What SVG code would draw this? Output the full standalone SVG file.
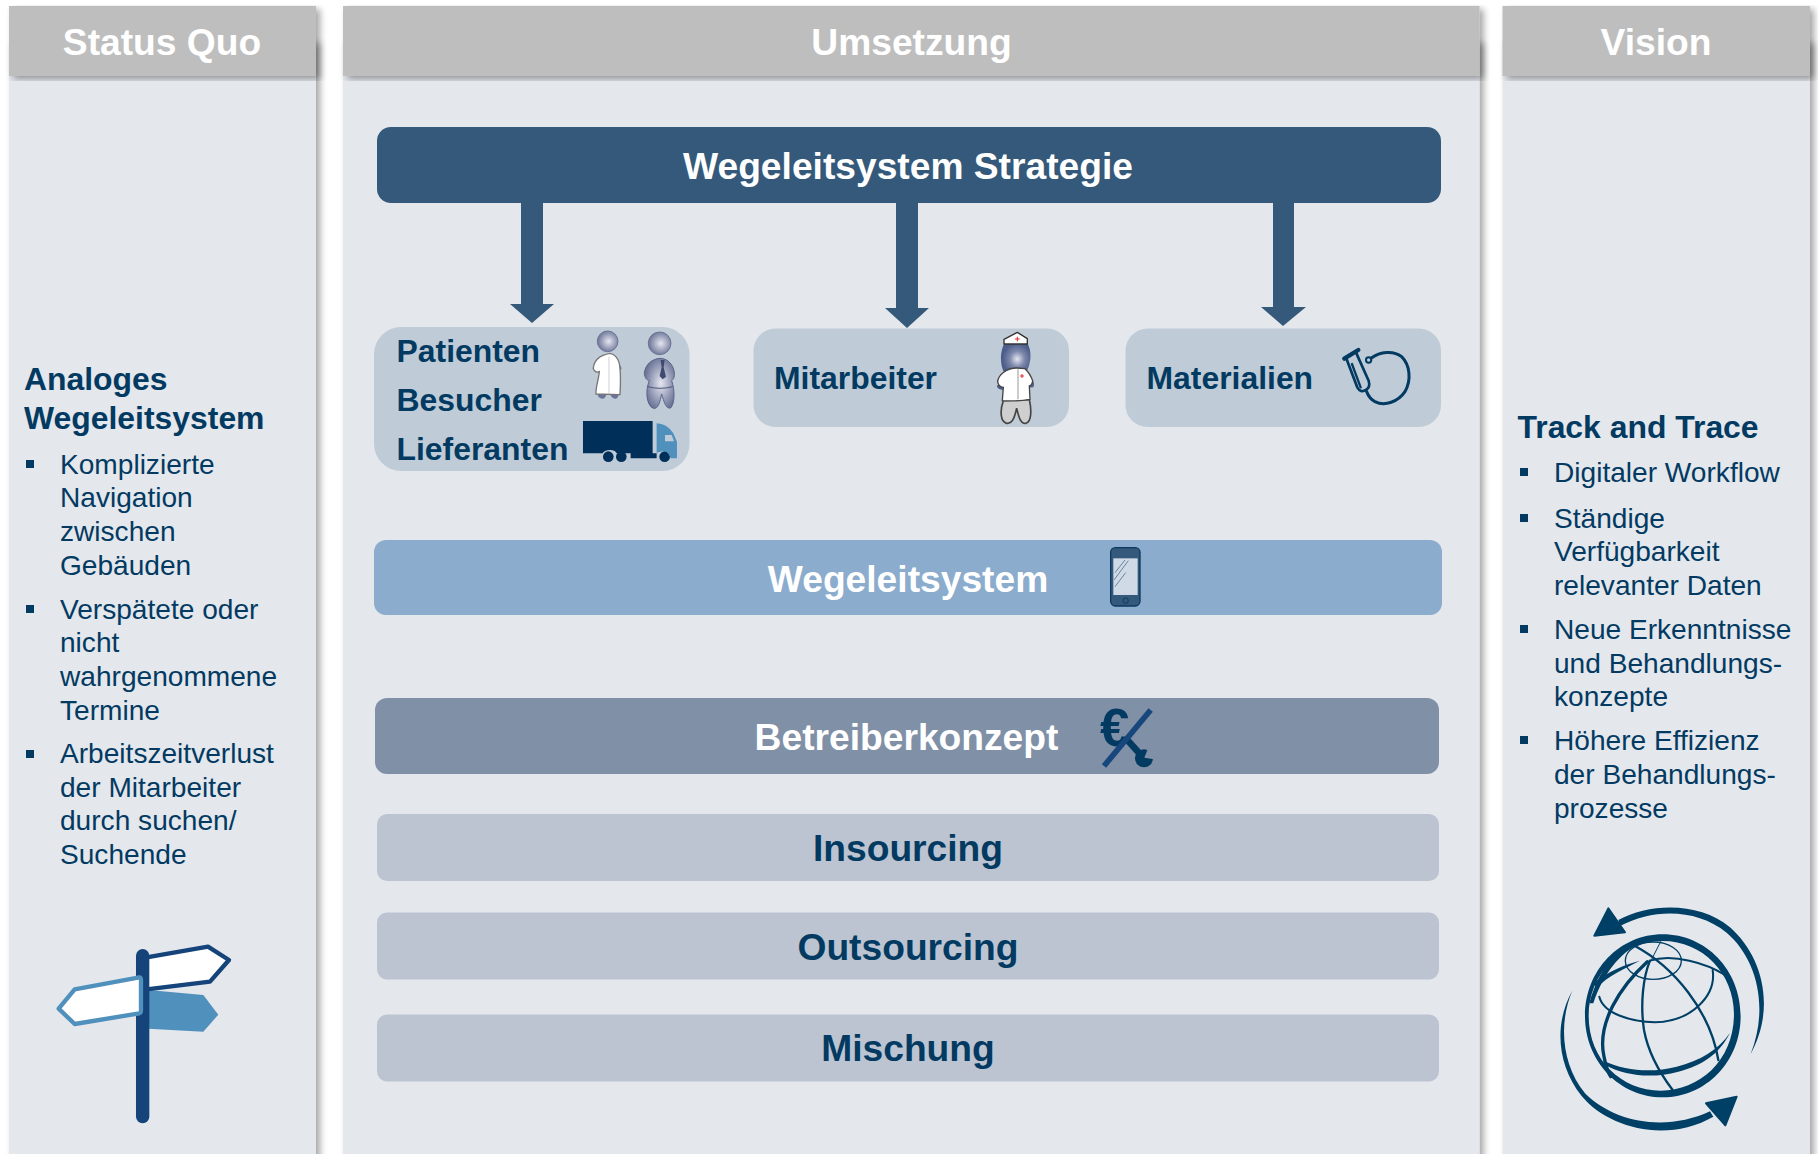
<svg xmlns="http://www.w3.org/2000/svg" width="1818" height="1154" viewBox="0 0 1818 1154">
<style>
text{font-family:"Liberation Sans",Arial,sans-serif}
.h{font-size:37.2px;font-weight:700;fill:#fff;text-anchor:middle}
.t{font-size:37.2px;font-weight:700;text-anchor:middle}
.dk{fill:#033a62}
.lb{font-size:31.9px;font-weight:700;fill:#033a62}
.ll{font-size:28.1px;fill:#033a62}
.sb{fill:#033a62}
.hd{fill:#bebebe}
.pn{fill:#e4e7ec}
.cell{fill:#bfccd7}
.opt{fill:#bcc4d1}
.ar{fill:#34597a}
.gl{fill:none;stroke:#003f66;stroke-linecap:round}
.gf{fill:#003f66}
</style>
<defs>
<filter id="sh" x="-5%" y="-5%" width="112%" height="112%"><feGaussianBlur in="SourceAlpha" stdDeviation="3.5"/><feOffset dx="4" dy="3"/><feComponentTransfer><feFuncA type="linear" slope=".36"/></feComponentTransfer><feMerge><feMergeNode/><feMergeNode in="SourceGraphic"/></feMerge></filter>
<radialGradient id="hg" cx=".55" cy=".5" r=".55"><stop offset="0" stop-color="#e4e6f0"/><stop offset="1" stop-color="#6b7396"/></radialGradient>
<radialGradient id="ng" cx=".55" cy=".55" r=".5"><stop offset="0" stop-color="#e4e6f0"/><stop offset=".5" stop-color="#7d88ac"/><stop offset="1" stop-color="#4c5d8a"/></radialGradient>
</defs>
<g id="col-status">
<rect class="pn" x="9" y="40" width="307" height="1120" filter="url(#sh)"/>
<rect class="hd" x="9" y="6" width="307" height="70" filter="url(#sh)"/>
<text class="h" x="162" y="55">Status Quo</text>
<text class="lb" x="24" y="390">Analoges</text>
<text class="lb" x="24" y="429">Wegeleitsystem</text>
<g class="sb"><rect x="26" y="460" width="8" height="8"/><rect x="26" y="605" width="8" height="8"/><rect x="26" y="750" width="8" height="8"/></g>
<g class="ll">
<text x="60" y="474">Komplizierte</text><text x="60" y="507">Navigation</text><text x="60" y="541">zwischen</text><text x="60" y="575">Gebäuden</text>
<text x="60" y="619">Verspätete oder</text><text x="60" y="652">nicht</text><text x="60" y="686">wahrgenommene</text><text x="60" y="720">Termine</text>
<text x="60" y="763">Arbeitszeitverlust</text><text x="60" y="797">der Mitarbeiter</text><text x="60" y="830">durch suchen/</text><text x="60" y="864">Suchende</text>
</g>
<g id="icon-sign" transform="translate(30 930) scale(.3333)">
<path d="M355 180 520 195 565 254 520 305 355 296Z" fill="#5090bc"/>
<path d="M350 82 534 50 597 90 540 155 350 178Z" fill="#fff" stroke="#14447a" stroke-width="13" stroke-linejoin="round"/>
<rect x="318" y="57" width="40" height="523" rx="20" fill="#14447a"/>
<path d="M328 142 134 178 86 236 134 282 328 250Q333 248 333 240V150Q333 142 328 142Z" fill="#fff" stroke="#5090bc" stroke-width="13" stroke-linejoin="round"/>
</g>
</g>
<g id="col-umsetzung">
<rect class="pn" x="343" y="40" width="1136.5" height="1120" filter="url(#sh)"/>
<rect class="hd" x="343" y="6" width="1136.5" height="70" filter="url(#sh)"/>
<text class="h" x="911.5" y="55">Umsetzung</text>
</g>
<g id="col-vision">
<rect class="pn" x="1502.5" y="40" width="307.5" height="1120" filter="url(#sh)"/>
<rect class="hd" x="1502.5" y="6" width="307.5" height="70" filter="url(#sh)"/>
<text class="h" x="1656" y="55">Vision</text>
<text class="lb" x="1517.5" y="437.5">Track and Trace</text>
<g class="sb"><rect x="1520" y="468" width="8" height="8"/><rect x="1520" y="514" width="8" height="8"/><rect x="1520" y="625" width="8" height="8"/><rect x="1520" y="736" width="8" height="8"/></g>
<g class="ll">
<text x="1554" y="482">Digitaler Workflow</text>
<text x="1554" y="528">Ständige</text><text x="1554" y="561">Verfügbarkeit</text><text x="1554" y="595">relevanter Daten</text>
<text x="1554" y="639">Neue Erkenntnisse</text><text x="1554" y="672.500">und Behandlungs-</text><text x="1554" y="705.500">konzepte</text>
<text x="1554" y="750">Höhere Effizienz</text><text x="1554" y="784">der Behandlungs-</text><text x="1554" y="817.500">prozesse</text>
</g>
<g id="icon-globe" transform="translate(1540 890) scale(.3333)">
<path class="gf" fill-rule="evenodd" d="M135 378C135 240 240 133 368 133 498 133 602 240 602 378 602 515 498 622 368 622 240 622 135 515 135 378ZM146 378C146 510 245 602 362 602 480 602 582 510 582 372 582 250 488 153 368 153 245 153 146 250 146 378Z"/>
<path class="gf" d="M148 340C170 260 210 190 285 150L300 160C240 190 190 250 160 340Z"/>
<path class="gl" d="M285 168C400 230 510 360 535 510" stroke-width="7"/>
<path class="gl" d="M322 215C240 290 170 400 192 500 200 540 205 550 212 560" stroke-width="10"/>
<path class="gl" d="M330 212C310 260 300 340 312 420 325 490 360 550 398 600" stroke-width="7"/>
<path class="gl" d="M178 320C190 370 270 395 345 397 450 395 530 320 518 240" stroke-width="6"/>
<path class="gf" d="M190 512C260 545 340 548 410 530 480 512 535 480 570 428 540 490 490 525 415 545 340 565 260 560 195 525Z"/>
<path class="gf" d="M160 280C200 245 260 222 300 212 262 232 200 258 170 295Z"/>
<path class="gl" d="M330 212C400 190 500 220 555 255" stroke-width="6"/>
<ellipse class="gl" cx="340" cy="212" rx="84" ry="56" stroke-width="4"/>
<path class="gl" d="M335 208 362 155" stroke-width="3"/>
<path class="gf" d="M235 90C330 38 480 35 570 112 665 195 710 350 632 492 688 350 650 205 560 128 470 55 340 55 240 108Z"/>
<path class="gf" d="M97 302C42 400 50 525 125 618 205 715 380 760 520 680L510 664C380 725 225 700 135 610 65 525 55 400 97 302Z"/>
<path class="gf" d="M205 55 163 137 255 127Z" stroke="#003f66" stroke-width="6" stroke-linejoin="round"/>
<path class="gf" d="M498 640 590 620 556 706Z" stroke="#003f66" stroke-width="6" stroke-linejoin="round"/>
</g>
</g>
<g id="connectors">
<path class="ar" d="M521 203H543V304H554L532 323 510 304H521Z"/>
<path class="ar" d="M896 203H918V308H929L907 328 885 308H896Z"/>
<path class="ar" d="M1273 203H1294V307H1306L1283 326 1261 307H1273Z"/>
</g>
<g id="node-strategie">
<rect x="377" y="127" width="1064" height="76" rx="14" fill="#34597a"/>
<text class="h" x="908" y="178.500">Wegeleitsystem Strategie</text>
</g>
<g id="node-patienten">
<rect class="cell" x="374" y="327" width="315.500" height="144" rx="27"/>
<text class="lb" x="396.500" y="362">Patienten</text>
<text class="lb" x="396.500" y="411">Besucher</text>
<text class="lb" x="396.500" y="460">Lieferanten</text>
<g transform="translate(360 310) scale(.3333)">
<circle cx="743" cy="94" r="31" fill="url(#hg)" stroke="#6b7396" stroke-width="3"/>
<path d="M712 250Q715 268 730 266 738 262 741 250H750Q755 268 768 266 778 262 776 245Z" fill="#6b7396"/>
<path d="M775 155 785 175 775 190ZM705 160 698 175 708 185Z" fill="#6b7396"/>
<path d="M750 130C722 135 702 150 700 175 702 185 712 188 718 185 716 210 706 235 708 252L780 254C782 220 782 180 778 160 774 145 765 133 750 130Z" fill="#fff" stroke="#777" stroke-width="4"/>
<path d="M747 140V250" stroke="#bbb" stroke-width="2"/>
<circle cx="899" cy="100" r="34" fill="url(#hg)" stroke="#6b7396" stroke-width="3"/>
<path d="M900 145C875 147 855 165 853 190 855 205 860 210 868 212 856 240 858 285 880 295 895 298 900 275 905 252 912 275 918 298 932 294 945 280 945 240 935 212 945 205 945 190 940 175 935 160 920 145 900 145Z" fill="url(#hg)" stroke="#5a6488" stroke-width="3"/>
<path d="M863 230Q900 240 938 230" fill="none" stroke="#4c5578" stroke-width="3"/>
<path d="M902 150H914L911 172 918 200 908 208 899 198 905 172Z" fill="#3f4a70"/>
</g>
<g transform="translate(360 310) scale(.3333)">
<path d="M669 333H878V430H890V445H812V430H770Q765 420 750 420 735 420 728 430H669Z" fill="#00305a"/>
<circle cx="745" cy="440" r="16" fill="#00305a"/><circle cx="784" cy="440" r="16" fill="#00305a"/><circle cx="914" cy="440" r="16" fill="#00305a"/>
<path d="M890 340Q920 340 940 370L951 395V445H932Q925 425 914 423 900 425 890 428Z" fill="#5090bc"/>
<path d="M915 375H935L942 394H915Z" fill="#bfccd7"/>
</g>
</g>
<g id="node-mitarbeiter">
<rect class="cell" x="753.500" y="328.500" width="315.500" height="98.500" rx="22"/>
<text class="lb" x="774" y="389">Mitarbeiter</text>
<g transform="translate(950 310) scale(.3333)">
<path d="M165 95C148 125 150 165 163 190L232 180C245 150 245 120 230 95Z" fill="url(#ng)"/>
<path d="M162 88 202 67 232 86V102H162Z" fill="#fff" stroke="#333" stroke-width="4" stroke-linejoin="round"/>
<path d="M202 80V94M195 87H209" stroke="#e8262d" stroke-width="3"/>
<path d="M142 225Q138 238 160 240L250 232Q255 218 248 212Z" fill="#4c5d8a"/>
<path d="M160 272C150 300 150 335 170 340 190 342 195 315 200 295 205 315 210 342 228 340 245 335 245 300 238 268Z" fill="#cfcfcf" stroke="#444" stroke-width="5"/>
<path d="M200 174C170 174 145 195 143 215 146 232 157 232 160 232L157 272Q200 275 240 268L238 228Q247 225 248 212 240 190 225 176Z" fill="#fff" stroke="#444" stroke-width="4"/>
<path d="M204 178V268" stroke="#999" stroke-width="3"/>
<path d="M216 192V204M210 198H222" stroke="#e8262d" stroke-width="3"/>
</g>
</g>
<g id="node-materialien">
<rect class="cell" x="1125.500" y="328.500" width="315.500" height="98.500" rx="22"/>
<text class="lb" x="1146.500" y="389">Materialien</text>
<g transform="translate(950 310) scale(.3333)" fill="none" stroke="#033a62" stroke-linecap="round">
<path d="M1183 146 1225 120" stroke-width="13"/>
<path d="M1190 148 1222 232Q1232 250 1248 240 1262 232 1256 212L1217 125" stroke-width="8"/>
<path d="M1206 162 1232 232" stroke-width="7"/>
<circle cx="1256" cy="150" r="8" stroke-width="6"/>
<path d="M1264 144C1290 125 1330 120 1355 140 1380 165 1385 210 1365 245 1345 275 1305 290 1275 275 1262 268 1255 258 1250 245" stroke-width="9"/>
</g>
</g>
<g id="node-wegeleitsystem">
<rect x="374" y="540" width="1068" height="75" rx="12" fill="#8baccd"/>
<text class="h" x="908" y="591.500">Wegeleitsystem</text>
<g transform="translate(1060 530) scale(.3333)">
<rect x="152" y="53" width="88" height="175" rx="14" fill="#34597a" stroke="#0b3a60" stroke-width="4"/>
<rect x="160" y="85" width="73" height="110" fill="#cfdae6"/>
<path d="M165 128 195 90M162 150 205 92M165 170 197 128" stroke="#34597a" stroke-width="2"/>
<circle cx="197" cy="212" r="8" fill="none" stroke="#0b3a60" stroke-width="3"/>
</g>
</g>
<g id="node-betreiber">
<rect x="375" y="698" width="1064" height="76" rx="12" fill="#8090a7"/>
<text class="h" x="906.500" y="749.500">Betreiberkonzept</text>
<text x="1100" y="746" font-size="53" font-weight="700" fill="#033a62">€</text>
<g transform="translate(1060 530) scale(.3333)">
<path d="M200 628 240 672" stroke="#033a62" stroke-width="20"/>
<circle cx="252" cy="685" r="27" fill="#033a62"/>
<path d="M253 683 266 650 292 660 282 688Z" fill="#8090a7"/>
<path d="M272 540 132 708" stroke="#17477d" stroke-width="17"/>
</g>
</g>
<g id="node-insourcing"><rect class="opt" x="377" y="814" width="1062" height="67" rx="10"/><text class="t dk" x="908" y="861">Insourcing</text></g>
<g id="node-outsourcing"><rect class="opt" x="377" y="912.500" width="1062" height="67" rx="10"/><text class="t dk" x="908" y="960">Outsourcing</text></g>
<g id="node-mischung"><rect class="opt" x="377" y="1014.500" width="1062" height="67" rx="10"/><text class="t dk" x="908" y="1061">Mischung</text></g>
</svg>
